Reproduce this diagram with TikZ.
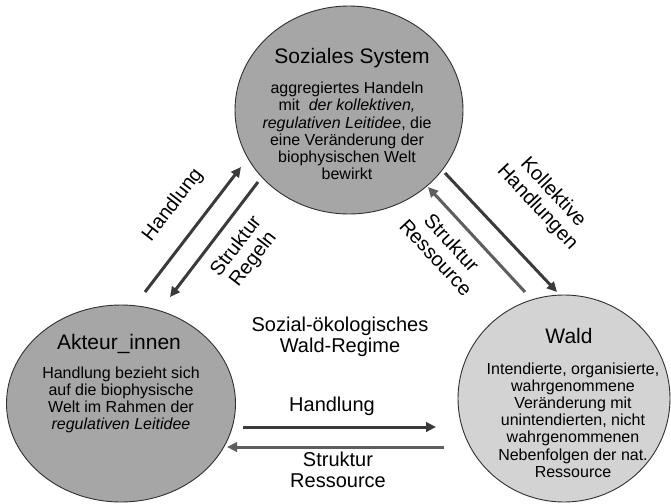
\documentclass[tikz,border=0pt]{standalone}
\usepackage{fontspec}
\setmainfont{Liberation Sans}
\usetikzlibrary{shapes.geometric,arrows.meta}
\definecolor{circdark}{HTML}{A6A6A6}
\definecolor{circlight}{HTML}{D3D3D3}
\definecolor{arrdark}{HTML}{3A3A3A}
\definecolor{arrlight}{HTML}{5E5E5E}
\definecolor{rim}{HTML}{303030}
\tikzset{
  blob/.style={ellipse, draw=rim, line width=0.9pt, inner sep=0pt},
  titletext/.style={font=\fontsize{21}{23}\selectfont, inner sep=0pt},
  bodytext/.style={font=\fontsize{16}{17.2}\selectfont, align=center, inner sep=0pt},
  lbl/.style={font=\fontsize{20}{21.5}\selectfont, align=center, inner sep=0pt},
  flow/.style={line width=3pt, -{Triangle[length=10pt,width=9.5pt]}},
  fdark/.style={flow, draw=arrdark},
  flight/.style={flow, draw=arrlight}
}
\begin{document}
\begin{tikzpicture}[x=1pt,y=-1pt]
\useasboundingbox[fill=white] (0,0) rectangle (671,503);
% circles
\node[blob, fill=circdark, minimum width=228pt, minimum height=208pt] (soz) at (349,110) {};
\node[blob, fill=circdark, minimum width=229pt, minimum height=197pt] (akt) at (121,403.5) {};
\node[blob, fill=circlight, minimum width=212pt, minimum height=207pt] (wald) at (564,398.5) {};
% texts in circles
\node[titletext] (sozT) at (352,58) {Soziales System};
\node[bodytext] (sozB) at (347,131) {aggregiertes Handeln\\mit \ \textit{der kollektiven,}\\\textit{regulativen Leitidee}, die\\eine Veränderung der\\biophysischen Welt\\bewirkt};
\node[titletext] (aktT) at (119,344) {Akteur\_innen};
\node[bodytext] (aktB) at (121,400) {Handlung bezieht sich\\auf die biophysische\\Welt im Rahmen der\\\textit{regulativen Leitidee}};
\node[titletext] (waldT) at (569,335.5) {Wald};
\node[bodytext] (waldB) at (573,420) {Intendierte, organisierte,\\wahrgenommene\\Veränderung mit\\unintendierten, nicht\\wahrgenommenen\\Nebenfolgen der nat.\\Ressource};
% centre label
\node[lbl] (regime) at (340,337) {Sozial-ökologisches\\Wald-Regime};
% arrow end points
\coordinate (h1s) at (145,292);
\coordinate (h1e) at (241,167);
\coordinate (r1s) at (258,182);
\coordinate (r1e) at (170,297);
\coordinate (k1s) at (445,173);
\coordinate (k1e) at (557,292);
\coordinate (s1s) at (525,292);
\coordinate (s1e) at (428,187);
\coordinate (h2s) at (243,427);
\coordinate (h2e) at (436,427);
\coordinate (s2s) at (444,447);
\coordinate (s2e) at (227,447);
% arrows
\draw[fdark] (h1s) -- (h1e);
\draw[fdark] (r1s) -- (r1e);
\draw[fdark] (k1s) -- (k1e);
\draw[flight] (s1s) -- (s1e);
\draw[fdark] (h2s) -- (h2e);
\draw[flight] (s2s) -- (s2e);
% arrow labels
\node[lbl, rotate=52.5] (lh1) at (173,205) {Handlung};
\node[lbl, rotate=52.5] (lr1) at (245,253) {Struktur\\Regeln};
\node[lbl, rotate=-47] (lk1) at (545,200) {Kollektive\\Handlungen};
\node[lbl, rotate=-47] (ls1) at (444,250) {Struktur\\Ressource};
\node[lbl] (lh2) at (332,406) {Handlung};
\node[lbl] (ls2) at (338,470) {Struktur\\Ressource};
\end{tikzpicture}
\end{document}
